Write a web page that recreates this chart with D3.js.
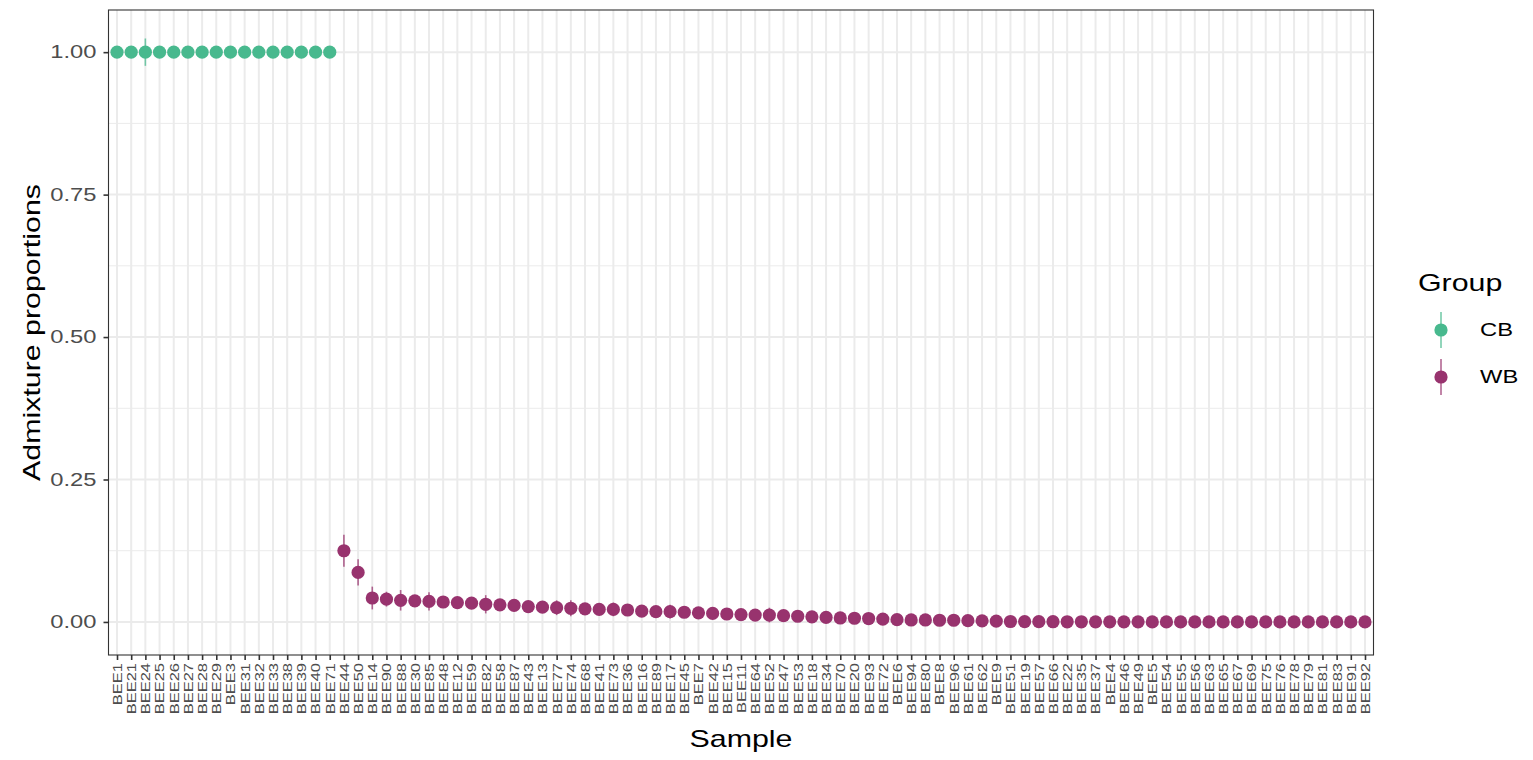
<!DOCTYPE html>
<html>
<head>
<meta charset="utf-8">
<script src="https://cdn.jsdelivr.net/npm/d3@7"></script>
<style>
  html, body { margin: 0; padding: 0; background: #ffffff; }
  svg { display: block; font-family: "Liberation Sans", Arial, Helvetica, sans-serif; }
</style>
</head>
<body>
<svg id="chart" width="1533" height="760"></svg>
<script>
// Sample order along the x axis (CB group first, then WB sorted by admixture)
const cbSamples = ["BEE1","BEE21","BEE24","BEE25","BEE26","BEE27","BEE28","BEE29","BEE3",
  "BEE31","BEE32","BEE33","BEE38","BEE39","BEE40","BEE71"];
const cbValues = [1,1,1,1,1,1,1,1,1,1,1,1,1,1,1,1];
const cbErrors = [0,0,0.024,0,0,0,0,0,0,0,0,0,0,0,0,0];

const wbSamples = ["BEE44","BEE50","BEE14","BEE90","BEE88","BEE30","BEE85","BEE48","BEE12","BEE59",
  "BEE82","BEE58","BEE87","BEE43","BEE13","BEE77","BEE74","BEE68","BEE41","BEE73",
  "BEE36","BEE16","BEE89","BEE17","BEE45","BEE7","BEE42","BEE15","BEE11","BEE64",
  "BEE52","BEE47","BEE53","BEE18","BEE34","BEE70","BEE20","BEE93","BEE72","BEE6",
  "BEE94","BEE80","BEE8","BEE96","BEE61","BEE62","BEE9","BEE51","BEE19","BEE57",
  "BEE66","BEE22","BEE35","BEE37","BEE4","BEE46","BEE49","BEE5","BEE54","BEE55",
  "BEE56","BEE63","BEE65","BEE67","BEE69","BEE75","BEE76","BEE78","BEE79","BEE81",
  "BEE83","BEE91","BEE92"];
const wbValues = [0.125,0.087,0.042,0.040,0.038,0.037,0.036,0.035,0.034,0.033,
  0.031,0.030,0.029,0.027,0.026,0.025,0.024,0.023,0.022,0.022,
  0.021,0.019,0.018,0.018,0.017,0.016,0.015,0.014,0.013,0.012,
  0.012,0.011,0.010,0.009,0.008,0.007,0.0065,0.006,0.005,0.004,
  0.0035,0.0035,0.003,0.003,0.0023,0.002,0.0015,0.0008,0.0006,0.0005,
  0.0004,0.0003,0.0003,0.0002,0.0002,0.0002,0.0002,0.0001,0.0001,0.0001,
  0.0001,0.0001,0.0001,0.0001,0,0,0,0,0,0,
  0,0,0];
const wbErrors = [0.028,0.023,0.020,0.013,0.018,0.006,0.016,0.006,0.006,0.008,
  0.016,0.006,0.006,0.006,0.009,0.013,0.014,0.010,0.006,0.012,
  0.005,0.005,0.006,0.012,0.005,0.005,0.006,0.006,0.007,0.007,
  0.013,0.005,0,0,0,0,0,0,0,0,
  0,0,0,0,0,0,0,0,0,0,
  0,0,0,0,0,0,0,0,0,0,
  0,0,0,0,0,0,0,0,0,0,
  0,0,0];

const yTicks = [0, 0.25, 0.5, 0.75, 1];
const yMinor = [0.125, 0.375, 0.625, 0.875];
const groups = ["CB", "WB"];
const groupColors = ["#48B98E", "#98336E"];

// Text in this figure uses a wide sans face; widen glyphs along the reading direction
const WIDEN = 1.32;

// Assemble rows for drawing
const rows = [];
cbSamples.forEach((s, i) => rows.push({ sample: s, value: cbValues[i], err: cbErrors[i], group: "CB" }));
wbSamples.forEach((s, i) => rows.push({ sample: s, value: wbValues[i], err: wbErrors[i], group: "WB" }));
const allSamples = cbSamples.concat(wbSamples);

const svg = d3.select("#chart");
const panel = { left: 108.5, right: 1373.5, top: 10, bottom: 655 };

const x = d3.scalePoint().domain(allSamples).range([panel.left, panel.right]).padding(0.6);
const y = d3.scaleLinear().domain([-0.058, 1.074]).range([panel.bottom, panel.top]);
const color = d3.scaleOrdinal().domain(groups).range(groupColors);

// Panel background and grid
svg.append("rect")
  .attr("x", panel.left).attr("y", panel.top)
  .attr("width", panel.right - panel.left).attr("height", panel.bottom - panel.top)
  .attr("fill", "#ffffff");

const grid = svg.append("g");
grid.selectAll("line.minor").data(yMinor).join("line")
  .attr("x1", panel.left).attr("x2", panel.right)
  .attr("y1", d => y(d)).attr("y2", d => y(d))
  .attr("stroke", "#EBEBEB").attr("stroke-width", 1);
grid.selectAll("line.majory").data(yTicks).join("line")
  .attr("x1", panel.left).attr("x2", panel.right)
  .attr("y1", d => y(d)).attr("y2", d => y(d))
  .attr("stroke", "#EBEBEB").attr("stroke-width", 2);
grid.selectAll("line.majorx").data(allSamples).join("line")
  .attr("x1", d => x(d)).attr("x2", d => x(d))
  .attr("y1", panel.top).attr("y2", panel.bottom)
  .attr("stroke", "#EBEBEB").attr("stroke-width", 2);

// Error bars
svg.append("g").selectAll("line").data(rows.filter(d => d.err > 0)).join("line")
  .attr("x1", d => x(d.sample)).attr("x2", d => x(d.sample))
  .attr("y1", d => y(d.value - d.err)).attr("y2", d => y(d.value + d.err))
  .attr("stroke", d => color(d.group)).attr("stroke-opacity", 0.75).attr("stroke-width", 1.6);

// Points
svg.append("g").selectAll("circle").data(rows).join("circle")
  .attr("cx", d => x(d.sample)).attr("cy", d => y(d.value))
  .attr("r", 6.6)
  .attr("fill", d => color(d.group));

// Panel border
svg.append("rect")
  .attr("x", panel.left).attr("y", panel.top)
  .attr("width", panel.right - panel.left).attr("height", panel.bottom - panel.top)
  .attr("fill", "none").attr("stroke", "#333333").attr("stroke-width", 1.1);

// Y axis
const yAxis = svg.append("g").attr("transform", `translate(${panel.left},0)`)
  .call(d3.axisLeft(y).tickValues(yTicks).tickFormat(d3.format(".2f")).tickSize(5).tickPadding(5));
yAxis.select(".domain").remove();
yAxis.selectAll(".tick line").attr("stroke", "#333333").attr("stroke-width", 1.6);
yAxis.selectAll(".tick text").attr("fill", "#4D4D4D").attr("font-size", "18px")
  .style("font-family", "'Liberation Sans', Arial, sans-serif")
  .attr("x", 0)
  .attr("transform", `translate(-12,0) scale(${WIDEN},1)`);

// X axis
const xAxis = svg.append("g").attr("transform", `translate(0,${panel.bottom})`)
  .call(d3.axisBottom(x).tickSize(5).tickPadding(4));
xAxis.select(".domain").remove();
xAxis.selectAll(".tick line").attr("stroke", "#333333").attr("stroke-width", 1.6);
xAxis.selectAll(".tick text")
  .attr("fill", "#4D4D4D").attr("font-size", "12.5px")
  .style("font-family", "'Liberation Sans', Arial, sans-serif")
  .attr("text-anchor", "end")
  .attr("x", 0).attr("y", 0).attr("dy", "0.35em")
  .attr("transform", `rotate(-90) translate(-8,0) scale(${WIDEN},1)`);

// Axis titles
svg.append("text")
  .attr("transform", `translate(${(panel.left + panel.right) / 2},747) scale(${WIDEN},1)`)
  .attr("text-anchor", "middle").attr("font-size", "23px").attr("fill", "#000")
  .text("Sample");
svg.append("text")
  .attr("transform", `translate(40,${(panel.top + panel.bottom) / 2}) rotate(-90) scale(${WIDEN},1)`)
  .attr("text-anchor", "middle").attr("font-size", "23px").attr("fill", "#000")
  .text("Admixture proportions");

// Legend
const legend = svg.append("g");
legend.append("text")
  .attr("transform", `translate(1418,291) scale(${WIDEN},1)`)
  .attr("font-size", "23px").attr("fill", "#000").text("Group");
const keys = legend.selectAll("g.key").data(groups).join("g")
  .attr("transform", (d, i) => `translate(1441,${330 + i * 47})`);
keys.append("line").attr("x1", 0).attr("x2", 0).attr("y1", -18).attr("y2", 18)
  .attr("stroke", d => color(d)).attr("stroke-opacity", 0.75).attr("stroke-width", 1.6);
keys.append("circle").attr("r", 6.6).attr("fill", d => color(d));
keys.append("text")
  .attr("transform", `translate(39,0) scale(${WIDEN},1)`)
  .attr("dy", "0.36em")
  .attr("font-size", "18px").attr("fill", "#000").text(d => d);
</script>
</body>
</html>
